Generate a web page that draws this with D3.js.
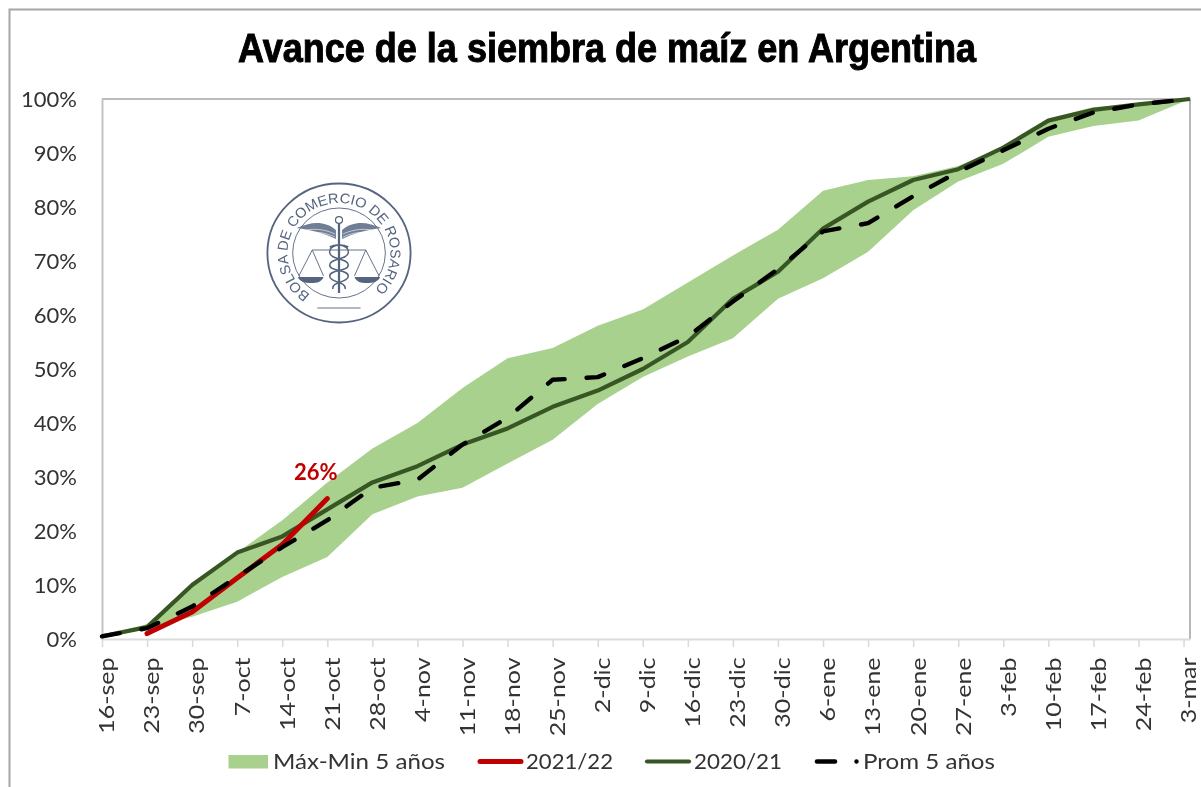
<!DOCTYPE html>
<html><head><meta charset="utf-8">
<script src="https://cdn.jsdelivr.net/npm/d3@7"></script>
<style>html,body{margin:0;padding:0;background:#fff;overflow:hidden}svg{display:block;filter:blur(0.4px)}</style>
</head><body><svg id="c" width="1201" height="787"></svg>
<script>
const tickDates=["2021-09-16","2021-09-23","2021-09-30","2021-10-07","2021-10-14","2021-10-21","2021-10-28","2021-11-04","2021-11-11","2021-11-18","2021-11-25","2021-12-02","2021-12-09","2021-12-16","2021-12-23","2021-12-30","2022-01-06","2022-01-13","2022-01-20","2022-01-27","2022-02-03","2022-02-10","2022-02-17","2022-02-24","2022-03-03"];
const tickLabels=["16-sep","23-sep","30-sep","7-oct","14-oct","21-oct","28-oct","4-nov","11-nov","18-nov","25-nov","2-dic","9-dic","16-dic","23-dic","30-dic","6-ene","13-ene","20-ene","27-ene","3-feb","10-feb","17-feb","24-feb","3-mar"];
const dataDates=[...tickDates.slice(0,24),"2022-03-04"];
const maxVals=[0.5,2.8,10,16,22,29,35.3,40,46.5,52,53.9,58,61,66,71,75.8,83,85,85.7,87.6,91.2,96.4,98.5,99,100];
const minVals=[0.5,2,4.1,6.9,11.5,15.2,23.1,26.4,28,32.5,36.9,43.5,48.5,52.3,55.7,63,66.8,71.7,79.4,84.7,88,93,95,96,100];
const vals2021=[1,5,11.3,17.5,26];
const vals2020=[0.5,2.2,10,16,19,24,29,32,36,39,43,46,50,55,63,68,76,81,85,87,91,96,98,99,100];
const valsProm=[0.5,2,6,11.5,17,22,28,29.5,36,41,48,48.5,52,56,62.5,68.5,75.5,77,82,86.5,90.5,94.5,97.5,99,100];
const yTicks=[0,10,20,30,40,50,60,70,80,90,100];
const title="Avance de la siembra de maíz en Argentina";
const legendNames=["Máx-Min 5 años","2021/22","2020/21","Prom 5 años"];
const sealText="BOLSA DE COMERCIO DE ROSARIO";

const BAND="#a9d18e",RED="#c00000",GREEN="#375623",FONT="Lato,Carlito,sans-serif",TXT="#333333",SEAL="#56657f";
const parse=d3.utcParse("%Y-%m-%d");
const svg=d3.select("#c");
const x=d3.scaleUtc().domain([parse(tickDates[0]),parse(dataDates[24])]).range([102,1190]);
const y=d3.scaleLinear().domain([0,100]).range([639,99]);
const X=dataDates.map(parse);

// outer frame
svg.append("path").attr("d","M9.5,787V9.5H1201").attr("fill","none").attr("stroke","#a6a6a6").attr("stroke-width",2);

// plot frame
svg.append("path").attr("d",`M102,${y(100)}H1190V${y(0)}`).attr("fill","none").attr("stroke","#a6a6a6").attr("stroke-width",1.6);

// band
svg.append("path").datum(X.map((d,i)=>({d,hi:maxVals[i],lo:minVals[i]})))
 .attr("fill",BAND)
 .attr("d",d3.area().x(p=>x(p.d)).y0(p=>y(p.lo)).y1(p=>y(p.hi)));

// axes
const ax=svg.append("g").attr("transform",`translate(0,${y(0)})`)
 .call(d3.axisBottom(x).tickValues(tickDates.map(parse)).tickSize(8).tickSizeOuter(0).tickFormat((d,i)=>tickLabels[i]));
ax.select(".domain").attr("stroke","#dcdcdc").attr("stroke-width",2);
ax.selectAll(".tick line").attr("stroke","#d9d9d9").attr("stroke-width",1.5);
ax.selectAll(".tick text").attr("font-family",FONT).attr("font-size",21).attr("fill",TXT)
 .attr("text-anchor","end").attr("transform","rotate(-90) scale(1.19,1)")
 .attr("x",-15.5).attr("y",4.5).attr("dy","0.35em");
const ay=svg.append("g").attr("transform","translate(102,0)")
 .call(d3.axisLeft(y).tickValues(yTicks).tickSize(0).tickFormat(d=>d+"%"));
ay.select(".domain").attr("stroke","#c4c4c4").attr("stroke-width",2);
ay.selectAll(".tick text").attr("font-family",FONT).attr("font-size",22).attr("fill",TXT).attr("x",-25);

// lines
const line=d3.line().x(p=>x(p[0])).y(p=>y(p[1]));
svg.append("path").attr("d",line(X.map((d,i)=>[d,vals2020[i]]))).attr("fill","none").attr("stroke",GREEN).attr("stroke-width",4.2).attr("stroke-linejoin","round");
svg.append("path").attr("d",line(vals2021.map((v,i)=>[X[i+1],v]))).attr("fill","none").attr("stroke",RED).attr("stroke-width",5).attr("stroke-linecap","round").attr("stroke-linejoin","round");
svg.append("path").attr("d",line(X.map((d,i)=>[d,valsProm[i]]))).attr("fill","none").attr("stroke","#000").attr("stroke-width",4.4).attr("stroke-dasharray","18 22").attr("stroke-linecap","round").attr("stroke-linejoin","round");

// data label
svg.append("text").attr("x",x(X[5])-11.5).attr("y",y(26)-19).attr("text-anchor","middle")
 .attr("font-family",FONT).attr("font-weight",700).attr("font-size",22).attr("fill",RED).text(vals2021[4]+"%");

// title
svg.append("text").attr("x",238).attr("y",62).attr("textLength",738).attr("lengthAdjust","spacingAndGlyphs")
 .attr("font-family","'Liberation Sans Narrow','Liberation Sans',sans-serif").attr("font-weight",700).attr("font-size",41)
 .attr("fill","#000").attr("stroke","#000").attr("stroke-width",1).text(title);

// legend
const LY=761;
const lg=svg.append("g").attr("font-family",FONT).attr("font-size",22).attr("fill",TXT);
const lt=(px,len,name)=>lg.append("text").attr("x",px).attr("y",LY).attr("dy","0.35em").attr("textLength",len).attr("lengthAdjust","spacingAndGlyphs").text(name);
lg.append("rect").attr("x",228.5).attr("y",755).attr("width",39.5).attr("height",13.5).attr("fill",BAND);
lt(273,172,legendNames[0]);
lg.append("line").attr("x1",480).attr("x2",521).attr("y1",LY+.5).attr("y2",LY+.5).attr("stroke",RED).attr("stroke-width",5).attr("stroke-linecap","round");
lt(526,87,legendNames[1]);
lg.append("line").attr("x1",647).attr("x2",689).attr("y1",LY+.5).attr("y2",LY+.5).attr("stroke",GREEN).attr("stroke-width",4.2).attr("stroke-linecap","round");
lt(694,88,legendNames[2]);
lg.append("line").attr("x1",817).attr("x2",835).attr("y1",LY+.5).attr("y2",LY+.5).attr("stroke","#000").attr("stroke-width",4.6).attr("stroke-linecap","round");
lg.append("circle").attr("cx",856.5).attr("cy",LY+.5).attr("r",2.2).attr("fill","#000");
lt(863,132,legendNames[3]);

// seal
const s=svg.append("g").attr("transform","translate(339,253) scale(1.03,1)").attr("fill","none").attr("stroke",SEAL);
s.append("circle").attr("r",69.5).attr("stroke-width",1.8);
s.append("circle").attr("r",45).attr("stroke-width",.9);
s.append("path").attr("id","sealArc").attr("stroke","none").attr("d",d3.arc()({innerRadius:50,outerRadius:50,startAngle:-2.55,endAngle:2.4}).split("L")[0]);
s.append("text").attr("stroke","none").attr("fill",SEAL).attr("font-family","'Liberation Sans',sans-serif").attr("font-size",14)
 .append("textPath").attr("href","#sealArc").attr("startOffset","0").attr("textLength",246).attr("lengthAdjust","spacingAndGlyphs").text(sealText);
// wings
[-1,1].forEach(k=>{
  const g=s.append("g").attr("transform",`scale(${k},1)`).attr("stroke-width",.9);
  g.append("path").attr("d","M3,-23C14,-33 28,-31 41,-25C28,-23 14,-20 3,-14Z").attr("fill","#6f7d95").attr("stroke","none");
  [-19,-16,-13].forEach((o,i)=>g.append("path").attr("d",`M4,${o}C14,${o-5} 26,${o-6} ${36-i*6},${o-3}`).attr("stroke","#fff").attr("stroke-width",.6));
  // balance
  g.append("path").attr("d","M0,-3H26M26,-3L15,23M26,-3L39,23").attr("stroke-width",.9);
  g.append("path").attr("d","M15,24H40C38,29 33,30 27,30C21,30 17,29 15,24Z").attr("fill",SEAL).attr("stroke","none");
});
// caduceus
s.append("path").attr("d","M0,-30V40").attr("stroke-width",2.2);
s.append("circle").attr("cy",-33).attr("r",3.4).attr("stroke-width",1.2);
s.append("path").attr("d","M-9,-6C-2,-10 10,-8 9,0C8,7 -9,5 -9,12C-9,19 9,16 9,23C9,30 -7,28 -6,36M9,-6C2,-10 -10,-8 -9,0C-8,7 9,5 9,12C9,19 -9,16 -9,23C-9,30 7,28 6,36").attr("stroke-width",1.5);
s.append("path").attr("d","M-21,55H21").attr("stroke-width",.9);
</script></body></html>
